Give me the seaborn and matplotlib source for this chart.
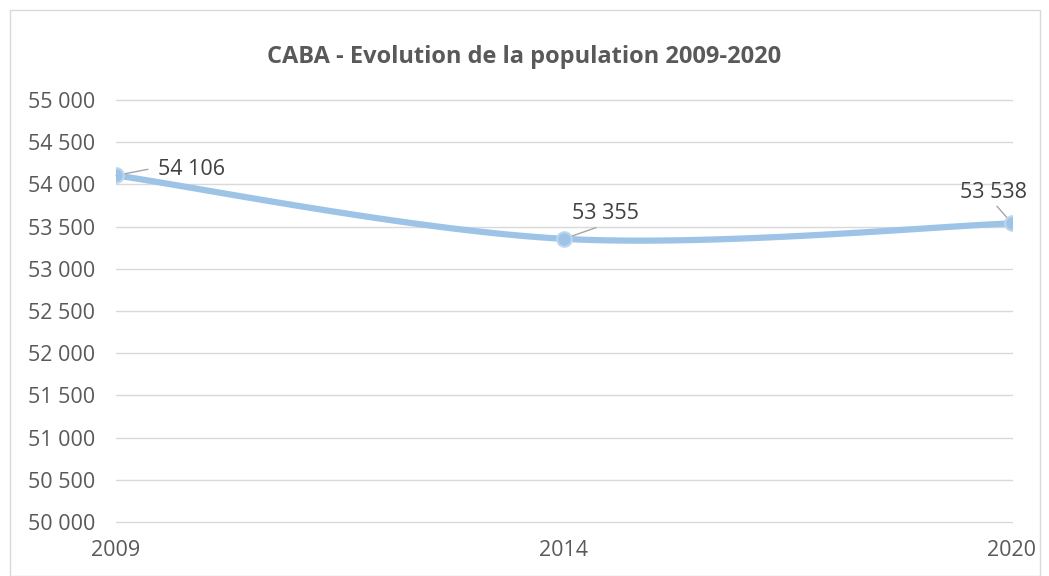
import numpy as np
import pandas as pd
import matplotlib.pyplot as plt
import seaborn as sns
from matplotlib.patches import Rectangle

years = ["2009", "2014", "2020"]
population = [54106, 53355, 53538]
y_ticks = list(range(50000, 55001, 500))

sns.set_style("white")
plt.rcParams['font.family'] = ['Open Sans', 'DejaVu Sans']

df = pd.DataFrame({"pos": np.arange(len(years)), "pop": population})


# Excel-like smoothing: cubic Bezier with Catmull-Rom tangents
def smooth(xs, ys, n=60):
    pts = np.column_stack([xs, ys]).astype(float)
    out = []
    for i in range(len(pts) - 1):
        p0 = pts[max(i - 1, 0)]
        p1, p2 = pts[i], pts[i + 1]
        p3 = pts[min(i + 2, len(pts) - 1)]
        c1 = p1 + (p2 - p0) / 6
        c2 = p2 - (p3 - p1) / 6
        t = np.linspace(0, 1, n)[:, None]
        seg = ((1 - t) ** 3) * p1 + 3 * ((1 - t) ** 2) * t * c1 + 3 * (1 - t) * t ** 2 * c2 + t ** 3 * p2
        out.append(seg)
    seg = np.vstack(out)
    return pd.DataFrame({"pos": seg[:, 0], "pop": seg[:, 1]})


curve = smooth(df["pos"], df["pop"])

fig = plt.figure(figsize=(10.49, 5.76), dpi=100)
ax = fig.add_axes([116 / 1049, 1 - 522 / 576, (1012 - 116) / 1049, (522 - 100) / 576])

fig.patches.append(Rectangle((10 / 1049, 0), 1030 / 1049, 1 - 10 / 576, transform=fig.transFigure,
                             fill=False, edgecolor="#D9D9D9", linewidth=1))

line_color = "#9DC3E6"
sns.lineplot(data=curve, x="pos", y="pop", ax=ax, color=line_color, linewidth=4.5,
             sort=False, solid_capstyle="round")
sns.scatterplot(data=df, x="pos", y="pop", ax=ax, s=110, color=line_color,
                edgecolor="#BDD7EE", linewidth=1.5, zorder=4)

ax.set_xlim(0, len(years) - 1)
ax.set_ylim(50000, 55000)
ax.set_yticks(y_ticks)
ax.set_yticklabels([f"{v:,}".replace(",", " ") for v in y_ticks])
ax.set_xticks(df["pos"])
ax.set_xticklabels(years)
ax.grid(axis="y", color="#D9D9D9", linewidth=1)
for gl in ax.get_ygridlines():
    gl.set_clip_on(False)
ax.set_axisbelow(True)
for s in ax.spines.values():
    s.set_visible(False)
ax.tick_params(axis="y", length=0, pad=15, labelsize=15.5, labelcolor="#595959")
ax.tick_params(axis="x", length=0, pad=13, labelsize=15.5, labelcolor="#595959")
ax.set_xlabel("")
ax.set_ylabel("")

# data labels with leader lines: (dx, dy, ha, relpos, gap at text side)
offsets = [(42, 6, "left", (0, 0.6), 5),
           (8, 25, "left", (0.5, 0), 0),
           (-18, 31, "center", (0.5, 0), 0)]
for (x, y), (dx, dy, ha, rp, gap) in zip(zip(df["pos"], df["pop"]), offsets):
    ax.annotate(f"{y:,}".replace(",", " "), xy=(x, y), xytext=(dx, dy), textcoords="offset pixels",
                ha=ha, va="center", fontsize=15.5, color="#404040",
                arrowprops=dict(arrowstyle="-", color="#A6A6A6", lw=1, relpos=rp,
                                shrinkA=gap, shrinkB=0))

fig.text(0.5, 1 - 57 / 576, "CABA - Evolution de la population 2009-2020", ha="center", va="center",
         fontsize=17, fontweight="bold", color="#595959")

fig.savefig("out.png", dpi=100)
